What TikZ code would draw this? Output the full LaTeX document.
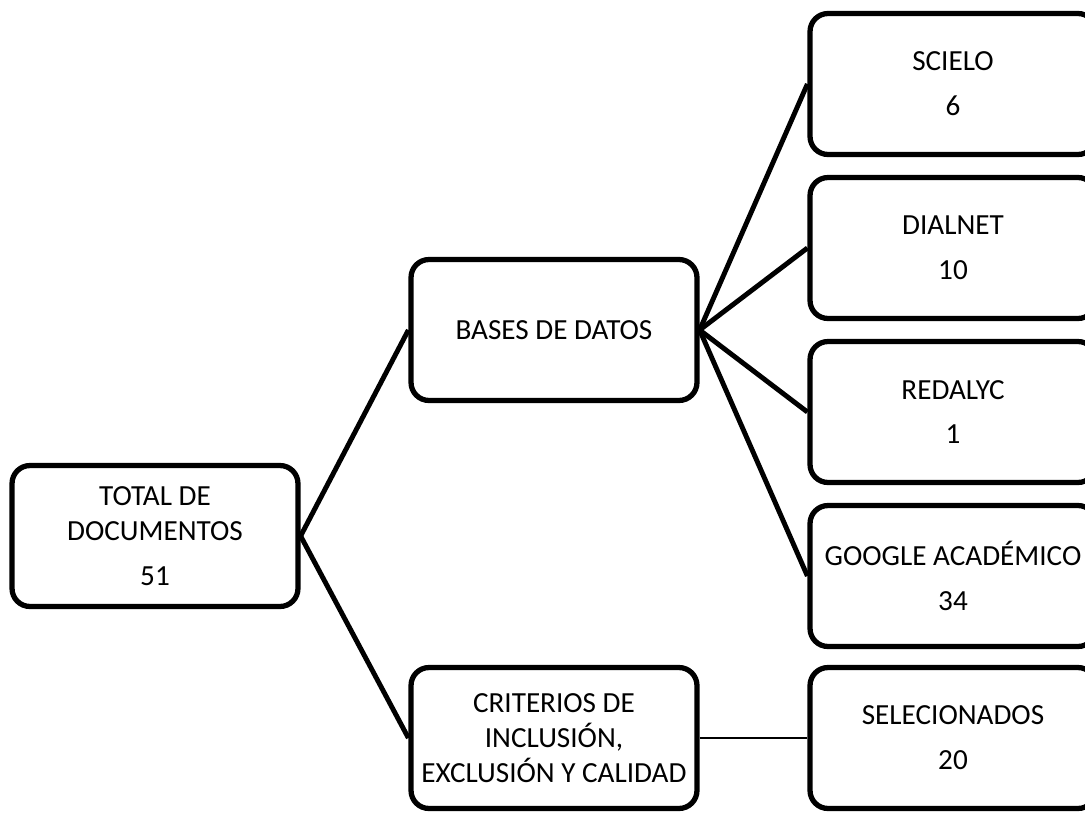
\documentclass[tikz,border=0pt]{standalone}
\usepackage{fontspec}
\setmainfont{Carlito}
\usetikzlibrary{arrows.meta,positioning,calc}

\begin{document}
\begin{tikzpicture}[x=0.02cm,y=-0.02cm,
  box/.style={draw,line width=3pt,rounded corners=0.36cm,minimum width=5.72cm,minimum height=2.82cm,
    align=center,inner sep=0pt,font={\fontsize{16.6}{19.8}\selectfont}},
  link/.style={line width=2.8pt},
  thinlink/.style={line width=1.3pt}]
  \useasboundingbox (0,0) rectangle (1085,812); % 画像の範囲（右端の箱ははみ出す）
  \node[box] (total) at (155,536) {TOTAL DE\\DOCUMENTOS\\[5.7pt]51}; % 左の箱
  \node[box] (bases) at (554,330) {BASES DE DATOS}; % 中央上の箱
  \node[box] (criterios) at (554,738) {CRITERIOS DE\\INCLUSIÓN,\\EXCLUSIÓN Y CALIDAD}; % 中央下の箱
  \node[box] (scielo) at (953,84) {SCIELO\\[5.7pt]6}; % 右列の箱
  \node[box] (dialnet) at (953,248) {DIALNET\\[5.7pt]10};
  \node[box] (redalyc) at (953,412) {REDALYC\\[5.7pt]1};
  \node[box] (google) at (953,576) {GOOGLE ACADÉMICO\\[5.7pt]34};
  \node[box] (selec) at (953,738) {SELECIONADOS\\[5.7pt]20};
  \draw[link] (total.east) -- (bases.west); % 枝分かれの線
  \draw[link] (total.east) -- (criterios.west);
  \foreach \n in {scielo,dialnet,redalyc,google}
    \draw[link] (bases.east) -- (\n.west); % データベースへの線
  \draw[thinlink] (criterios.east) -- (selec.west); % 細い線
\end{tikzpicture}
\end{document}
